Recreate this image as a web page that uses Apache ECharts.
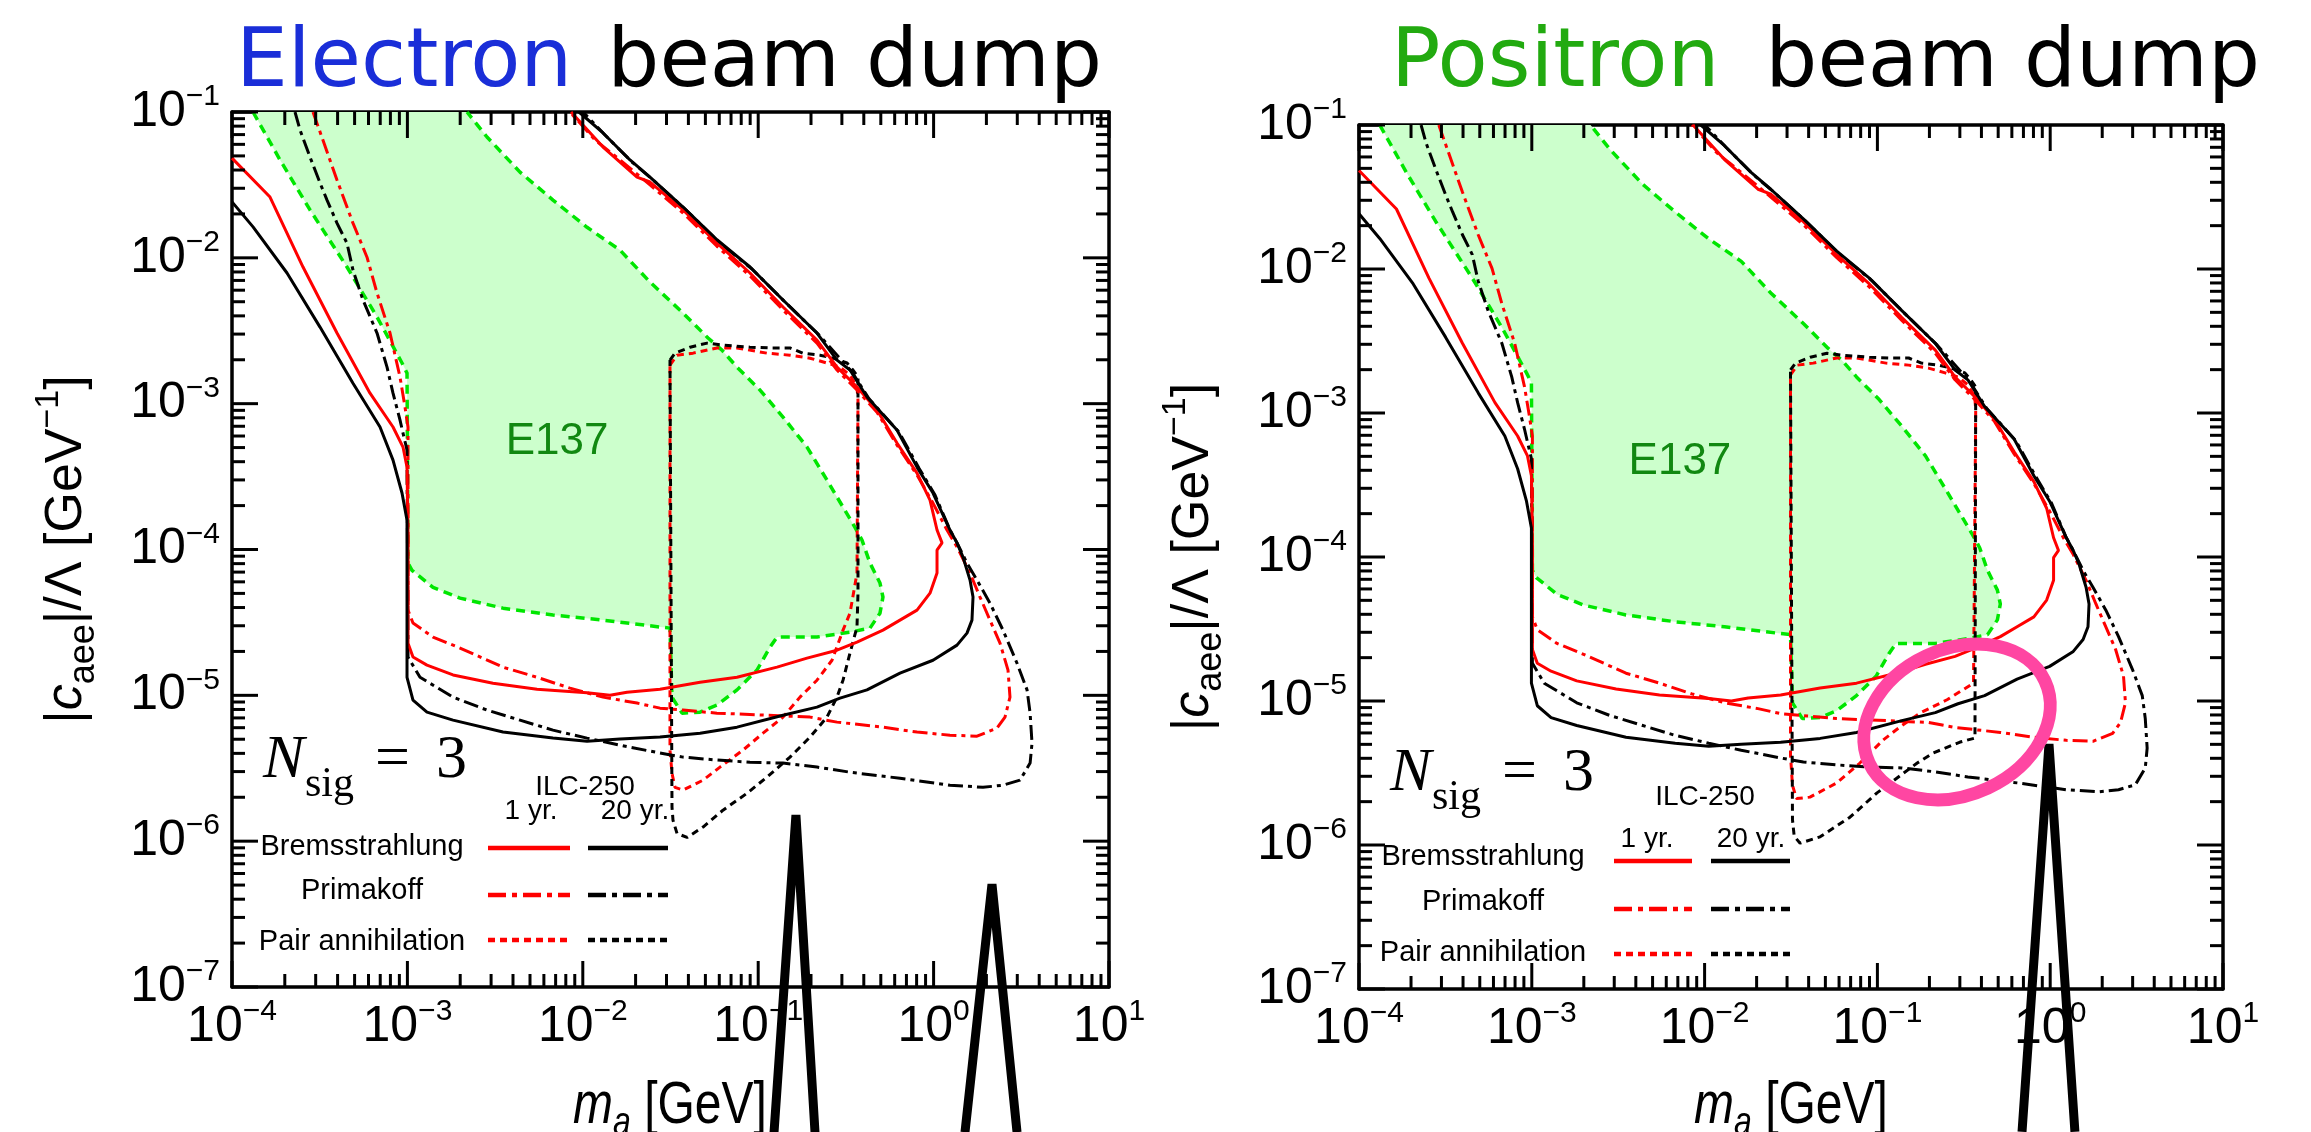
<!DOCTYPE html>
<html lang="en">
<head>
<meta charset="UTF-8">
<title>ILC beam dump sensitivity</title>
<script src="https://cdn.jsdelivr.net/npm/echarts@6/dist/echarts.min.js"></script>
<style>
  body { margin: 0; background: #fff; }
  #chart { width: 2311px; height: 1132px; }
</style>
</head>
<body>
<div id="chart"></div>
<script>
// ---- axis ticks ----
const majorX = [1e-4, 1e-3, 1e-2, 1e-1, 1, 10];
const majorY = [1e-7, 1e-6, 1e-5, 1e-4, 1e-3, 1e-2, 1e-1];
const minorSteps = [2, 3, 4, 5, 6, 7, 8, 9];

// ---- curves: [m_a in GeV, |c_aee|/Lambda in 1/GeV] ----
// E137 excluded region (closed outline)
const e137Edge = [[1.318e-4,0.1],[1.879e-4,4.69e-2],[2.785e-4,2.13e-2],[4.524e-4,8.65e-3],[6.711e-4,3.93e-3],[9.317e-4,1.9e-3],[9.95e-4,1.62e-3],[1.008e-3,8.07e-5],[1.062e-3,7.2e-5],[1.399e-3,5.5e-5],[1.995e-3,4.64e-5],[3.508e-3,3.96e-5],[6.761e-3,3.55e-5],[1.304e-2,3.28e-5],[2.755e-2,2.94e-5],[3.141e-2,2.89e-5],[3.225e-2,9.7e-6],[3.68e-2,7.55e-6],[4.663e-2,7.67e-6],[5.82e-2,8.57e-6],[7.571e-2,1.09e-5],[9.84e-2,1.49e-5],[0.1168,2.14e-5],[0.128,2.51e-5],[0.2163,2.51e-5],[0.3337,2.71e-5],[0.4339,2.89e-5],[0.4947,3.66e-5],[0.5145,4.72e-5],[0.4947,5.89e-5],[0.4339,8.07e-5],[0.3907,1.16e-4],[0.3563,1.42e-4],[0.2467,2.99e-4],[0.1898,5.04e-4],[0.1385,8.09e-4],[0.1024,1.24e-3],[7.571e-2,1.78e-3],[6.216e-2,2.33e-3],[5.176e-2,2.82e-3],[3.729e-2,4.18e-3],[2.416e-2,6.82e-3],[1.63e-2,1.13e-2],[1.057e-2,1.62e-2],[6.761e-3,2.49e-2],[4.385e-3,3.87e-2],[2.843e-3,6.74e-2],[2.187e-3,0.1]];

// Bremsstrahlung
const bremsOne = [[1e-4,4.83e-2],[1.647e-4,2.61e-2],[2.54e-4,8.65e-3],[3.968e-4,3.05e-3],[6.121e-4,1.18e-3],[8.279e-4,6.92e-4],[9.44e-4,5.04e-4],[9.95e-4,3.67e-4],[1.008e-3,1.29e-4],[1.008e-3,2.28e-5],[1.076e-3,1.83e-5],[1.293e-3,1.61e-5],[1.82e-3,1.38e-5],[3.076e-3,1.21e-5],[5.483e-3,1.1e-5],[1.057e-2,1.04e-5],[1.429e-2,1.0e-5],[1.787e-2,1.05e-5],[2.755e-2,1.1e-5],[4.663e-2,1.23e-5],[7.571e-2,1.33e-5],[0.128,1.56e-5],[0.1898,1.8e-5],[0.2814,2.04e-5],[0.3658,2.32e-5],[0.5145,2.8e-5],[0.6433,3.28e-5],[0.8044,3.84e-5],[0.9539,5.02e-5],[1.046,6.89e-5],[1.046,9.9e-5],[1.117,1.11e-4],[1.046,1.36e-4],[0.9539,2.18e-4],[0.8044,3.34e-4],[0.6184,5.37e-4],[0.4756,9.04e-4],[0.3658,1.3e-3],[0.2814,1.78e-3],[0.2163,2.73e-3],[0.1385,4.6e-3],[8.98e-2,7.87e-3],[5.82e-2,1.26e-2],[3.729e-2,2.13e-2],[2.416e-2,3.31e-2],[2.037e-2,3.58e-2],[1.304e-2,5.75e-2],[8.57e-3,0.1]];
const bremsTwenty = [[1e-4,2.42e-2],[1.318e-4,1.63e-2],[2.059e-4,7.87e-3],[3.175e-4,3.35e-3],[4.895e-4,1.38e-3],[6.98e-4,6.92e-4],[8.279e-4,4.1e-4],[9.317e-4,2.44e-4],[9.95e-4,1.59e-4],[9.95e-4,1.33e-5],[1.076e-3,9.27e-6],[1.293e-3,7.67e-6],[1.82e-3,6.76e-6],[3.508e-3,5.6e-6],[6.761e-3,5.09e-6],[1.057e-2,4.85e-6],[1.63e-2,5.01e-6],[2.755e-2,5.17e-6],[4.663e-2,5.5e-6],[7.571e-2,6.05e-6],[0.1385,7.31e-6],[0.2163,8.3e-6],[0.2927,9.57e-6],[0.4172,1.09e-5],[0.6433,1.42e-5],[0.9922,1.74e-5],[1.36,2.21e-5],[1.55,2.67e-5],[1.655,3.28e-5],[1.678,4.72e-5],[1.613,6.17e-5],[1.471,8.87e-5],[1.36,1.11e-4],[1.24,1.36e-4],[0.9922,2.44e-4],[0.8044,3.67e-4],[0.6184,6.59e-4],[0.4172,1.11e-3],[0.3337,1.7e-3],[0.2814,1.99e-3],[0.2163,3.05e-3],[0.1385,5.14e-3],[8.98e-2,8.65e-3],[5.82e-2,1.33e-2],[3.729e-2,2.23e-2],[2.416e-2,3.58e-2],[1.858e-2,4.69e-2],[1.304e-2,7.18e-2],[9.51e-3,0.1]];

// Primakoff
const primaOne = [[2.896e-4,0.1],[3.968e-4,3.42e-2],[4.895e-4,1.73e-2],[5.885e-4,1.01e-2],[6.711e-4,5.74e-3],[7.96e-4,3.05e-3],[9.077e-4,1.52e-3],[9.69e-4,9.47e-4],[1.008e-3,6.92e-4],[1.008e-3,3.84e-5],[1.076e-3,3.13e-5],[1.399e-3,2.51e-5],[1.995e-3,2.11e-5],[3.508e-3,1.56e-5],[5.483e-3,1.33e-5],[8.453e-3,1.12e-5],[1.304e-2,9.72e-6],[2.037e-2,8.85e-6],[2.755e-2,8.17e-6],[3.729e-2,7.92e-6],[5.82e-2,7.55e-6],[0.1123,7.31e-6],[0.1974,7.09e-6],[0.2814,6.55e-6],[0.5145,6.05e-6],[0.8044,5.6e-6],[1.24,5.33e-6],[1.768,5.25e-6],[2.298,5.95e-6],[2.553,7.09e-6],[2.726,9.72e-6],[2.656,1.49e-5],[2.391,2.28e-5],[2.096,3.28e-5],[1.839,4.72e-5],[1.613,6.89e-5],[1.36,1.04e-4],[1.192,1.36e-4],[0.9922,2.08e-4],[0.8044,3.24e-4],[0.6184,5.2e-4],[0.4756,8.75e-4],[0.3658,1.24e-3],[0.2814,1.7e-3],[0.2163,2.6e-3],[0.1385,4.39e-3],[8.98e-2,7.5e-3],[5.82e-2,1.2e-2],[3.729e-2,2.03e-2],[2.416e-2,3.16e-2],[1.63e-2,4.69e-2],[1.174e-2,6.43e-2],[8.453e-3,0.1]];
const primaTwenty = [[2.287e-4,0.1],[2.442e-4,7.53e-2],[2.785e-4,4.91e-2],[3.175e-4,3.26e-2],[3.482e-4,2.49e-2],[3.968e-4,1.73e-2],[4.524e-4,1.26e-2],[4.895e-4,8.24e-3],[5.582e-4,5.14e-3],[6.711e-4,3.05e-3],[7.654e-4,1.78e-3],[8.279e-4,1.18e-3],[9.077e-4,7.71e-4],[9.44e-4,6.28e-4],[9.95e-4,4.81e-4],[1.008e-3,1.83e-5],[1.18e-3,1.33e-5],[1.82e-3,9.72e-6],[2.843e-3,7.92e-6],[4.385e-3,6.76e-6],[6.761e-3,5.77e-6],[1.057e-2,5.09e-6],[1.63e-2,4.55e-6],[2.755e-2,4.02e-6],[3.729e-2,3.77e-6],[5.82e-2,3.6e-6],[8.98e-2,3.48e-6],[0.1385,3.43e-6],[0.2163,3.22e-6],[0.3337,2.97e-6],[0.6433,2.7e-6],[1.24,2.42e-6],[1.912,2.34e-6],[2.486,2.42e-6],[3.11,2.62e-6],[3.55,3.43e-6],[3.64,4.7e-6],[3.55,7.55e-6],[3.41,1.09e-5],[2.99,1.66e-5],[2.486,2.8e-5],[2.096,4.29e-5],[1.768,6.17e-5],[1.55,8.07e-5],[1.36,1.11e-4],[1.24,1.36e-4],[1.019,2.36e-4],[0.8258,3.61e-4],[0.6349,6.38e-4],[0.4283,1.08e-3],[0.3426,1.65e-3],[0.222,2.96e-3],[0.1422,4.98e-3],[9.22e-2,8.38e-3],[5.976e-2,1.28e-2],[3.828e-2,2.16e-2],[2.48e-2,3.47e-2],[1.906e-2,4.54e-2],[1.339e-2,6.95e-2],[1.003e-2,0.1]];

// Pair annihilation, electron dump
const pairOne = [[3.141e-2,1.84e-3],[3.445e-2,2.15e-3],[4.252e-2,2.22e-3],[5.82e-2,2.41e-3],[7.571e-2,2.41e-3],[0.1123,2.22e-3],[0.1518,2.15e-3],[0.1974,2.05e-3],[0.2467,1.9e-3],[0.2927,1.78e-3],[0.3337,1.57e-3],[0.3658,1.3e-3],[0.3706,1.06e-3],[0.3658,6.89e-5],[0.3337,3.66e-5],[0.3045,2.8e-5],[0.2635,1.74e-5],[0.2163,1.27e-5],[0.1731,9.72e-6],[0.1385,7.09e-6],[0.1065,5.5e-6],[8.19e-2,4.21e-6],[6.055e-2,3.22e-6],[4.85e-2,2.62e-6],[3.729e-2,2.24e-6],[3.355e-2,2.34e-6],[3.225e-2,2.92e-6],[3.141e-2,4.21e-6],[3.141e-2,1.84e-3]];
const pairTwenty = [[3.141e-2,1.99e-3],[3.355e-2,2.22e-3],[4.088e-2,2.44e-3],[5.11e-2,2.6e-3],[6.298e-2,2.52e-3],[8.98e-2,2.44e-3],[0.1168,2.41e-3],[0.1518,2.41e-3],[0.18,2.22e-3],[0.2251,2.15e-3],[0.267,2.05e-3],[0.3209,1.9e-3],[0.3471,1.7e-3],[0.3706,1.52e-3],[0.3706,5.02e-5],[0.3658,2.94e-5],[0.3337,1.95e-5],[0.3045,1.27e-5],[0.2814,9.72e-6],[0.2467,7.09e-6],[0.1974,5.17e-6],[0.1518,3.77e-6],[0.1123,2.75e-6],[8.63e-2,2.13e-6],[6.298e-2,1.63e-6],[4.85e-2,1.25e-6],[3.93e-2,1.06e-6],[3.445e-2,1.13e-6],[3.268e-2,1.39e-6],[3.225e-2,1.71e-6],[3.141e-2,1.99e-3]];

// Pair annihilation, positron dump
const pairOnePos = [[3.141e-2,1.84e-3],[3.445e-2,2.15e-3],[4.252e-2,2.22e-3],[5.82e-2,2.41e-3],[7.571e-2,2.41e-3],[0.1123,2.22e-3],[0.1518,2.15e-3],[0.1974,2.05e-3],[0.2467,1.9e-3],[0.2927,1.78e-3],[0.3337,1.57e-3],[0.3658,1.3e-3],[0.3706,1.06e-3],[0.36,1.33e-5],[0.253,1.02e-5],[0.177,8.26e-6],[0.135,6.6e-6],[0.108,5.36e-6],[7.92e-2,3.71e-6],[5.83e-2,2.7e-6],[4.07e-2,2.15e-6],[3.4e-2,2.1e-6],[3.225e-2,2.6e-6],[3.141e-2,4.21e-6],[3.141e-2,1.84e-3]];
const pairTwentyPos = [[3.141e-2,1.99e-3],[3.355e-2,2.22e-3],[4.088e-2,2.44e-3],[5.11e-2,2.6e-3],[6.298e-2,2.52e-3],[8.98e-2,2.44e-3],[0.1168,2.41e-3],[0.1518,2.41e-3],[0.18,2.22e-3],[0.2251,2.15e-3],[0.267,2.05e-3],[0.3209,1.9e-3],[0.3471,1.7e-3],[0.3706,1.52e-3],[0.367,5.53e-6],[0.301,5.19e-6],[0.21,4.35e-6],[0.17,3.71e-6],[9.95e-2,2.3e-6],[6.94e-2,1.56e-6],[4.66e-2,1.14e-6],[3.57e-2,1.03e-6],[3.3e-2,1.15e-6],[3.225e-2,1.5e-6],[3.141e-2,1.99e-3]];

// hand-drawn strokes and ring laid over the figure
const spikesEle = [[[0.1231,1.01e-8],[0.1641,1.51e-6],[0.2108,1.01e-8]], [[1.51,1.01e-8],[2.152,5.07e-7],[2.99,1.01e-8]]];
const spikesPos = [[[0.687,1.02e-8],[0.984,5.02e-6],[1.39,1.02e-8]]];
const ringPos = [0.289, 7.15e-6];
const e137LabelEle = [7.13e-3, 5.5e-4];
const e137LabelPos = [7.2e-3, 4.57e-4];

// ---- styling ----
const SANS = '"Liberation Sans", Arial, Helvetica, sans-serif';
const NARROW = '"Liberation Sans Narrow", "Liberation Sans", Arial, sans-serif';
const SERIF = '"Liberation Serif", "Times New Roman", serif';
const TITLE = '"DejaVu Sans", sans-serif';
const RED = '#ff0000';
const BLACK = '#000000';
const DASHDOT = [15, 5, 4, 5];
const DOTTED = [7, 5];
const MAJOR_LEN = 26;
const MINOR_LEN = 13;

const minorX = [];
majorX.slice(0, -1).forEach(d => minorSteps.forEach(k => minorX.push(k * d)));
const minorY = [];
majorY.slice(0, -1).forEach(d => minorSteps.forEach(k => minorY.push(k * d)));

function powLabel(v) {
  const e = Math.round(Math.log10(v));
  return '{b|10}{s|' + (e < 0 ? '\u2212' + (-e) : e) + '}';
}
const labelRich = {
  b: { fontSize: 50, fontFamily: NARROW, color: '#000', lineHeight: 60, verticalAlign: 'middle' },
  s: { fontSize: 30, fontFamily: NARROW, color: '#000', verticalAlign: 'top' }
};
const xNameRich = {
  i: { fontSize: 48, fontFamily: SANS, fontStyle: 'italic', fill: '#000', lineHeight: 60, verticalAlign: 'middle' },
  sub: { fontSize: 32, fontFamily: SANS, fontStyle: 'italic', fill: '#000', verticalAlign: 'bottom' },
  n: { fontSize: 48, fontFamily: SANS, fill: '#000', lineHeight: 60, verticalAlign: 'middle' }
};
const yNameRich = {
  n: { fontSize: 52, fontFamily: SANS, color: '#000', lineHeight: 70, verticalAlign: 'middle' },
  i: { fontSize: 52, fontFamily: SANS, fontStyle: 'italic', color: '#000', lineHeight: 70, verticalAlign: 'middle' },
  sub: { fontSize: 36, fontFamily: SANS, color: '#000', verticalAlign: 'bottom' },
  sup: { fontSize: 34, fontFamily: SANS, color: '#000', verticalAlign: 'top' }
};

const boxLine = { show: true, onZero: false, lineStyle: { color: '#000', width: 3.5 } };

function xAxesFor(g) {
  const base = { gridIndex: g, type: 'log', logBase: 10, min: 1e-4, max: 10, splitLine: { show: false }, axisTick: { show: false }, minorTick: { show: false } };
  return [
    Object.assign({}, base, {
      position: 'bottom', axisLine: boxLine,
      axisLabel: { show: true, customValues: majorX, formatter: powLabel, rich: labelRich, margin: 10 }
    }),
    Object.assign({}, base, { position: 'top', axisLine: boxLine, axisLabel: { show: false } })
  ];
}
function yAxesFor(g) {
  const base = { gridIndex: g, type: 'log', logBase: 10, min: 1e-7, max: 1e-1, splitLine: { show: false }, axisTick: { show: false }, minorTick: { show: false } };
  return [
    Object.assign({}, base, {
      position: 'left', axisLine: boxLine,
      axisLabel: { show: true, customValues: majorY, formatter: powLabel, rich: labelRich, margin: 12 },
      name: '{n||}{i|c}{sub|aee}{n||/\u039b [GeV}{sup|\u22121}{n|]}', nameLocation: 'middle', nameGap: 130, nameRotate: 90,
      nameTextStyle: { rich: yNameRich }
    }),
    Object.assign({}, base, { position: 'right', axisLine: boxLine, axisLabel: { show: false } })
  ];
}

function line(g, data, color, dash, width, z) {
  return {
    type: 'line', xAxisIndex: 2 * g, yAxisIndex: 2 * g, data: data,
    showSymbol: false, symbol: 'none', silent: true, animation: false, z: z || 3,
    lineStyle: { color: color, width: width || 3, type: dash || 'solid' }
  };
}
function e137Fill(g) {
  return {
    type: 'custom', xAxisIndex: 2 * g, yAxisIndex: 2 * g, data: e137Edge, silent: true, animation: false, z: 1,
    renderItem: function (params, api) {
      if (params.dataIndex !== 0) return null;
      return { type: 'polygon', shape: { points: e137Edge.map(p => api.coord(p)) }, style: { fill: '#ccffcc' } };
    }
  };
}
function spike(g, data) {
  return {
    type: 'line', xAxisIndex: 2 * g, yAxisIndex: 2 * g, data: data, clip: false,
    showSymbol: false, symbol: 'none', silent: true, animation: false, z: 20,
    lineStyle: { color: '#000', width: 9, join: 'bevel' }
  };
}
function panelSeries(g, pOne, pTwenty) {
  return [
    e137Fill(g),
    line(g, e137Edge, '#00e600', [9, 6], 3.5, 2),
    line(g, pOne, RED, DOTTED),
    line(g, pTwenty, BLACK, DOTTED),
    line(g, primaOne, RED, DASHDOT),
    line(g, primaTwenty, BLACK, DASHDOT),
    line(g, bremsOne, RED, 'solid'),
    line(g, bremsTwenty, BLACK, 'solid')
  ];
}

const chart = echarts.init(document.getElementById('chart'), null, { renderer: 'canvas' });
const grids = [
  { left: 232, top: 112, width: 877, height: 875, containLabel: false, outerBoundsMode: 'none' },
  { left: 1359, top: 125, width: 864, height: 864, containLabel: false, outerBoundsMode: 'none' }
];
const series = []
  .concat(panelSeries(0, pairOne, pairTwenty))
  .concat(panelSeries(1, pairOnePos, pairTwentyPos))
  .concat(spikesEle.map(s => spike(0, s)))
  .concat(spikesPos.map(s => spike(1, s)));

chart.setOption({
  animation: false,
  backgroundColor: '#ffffff',
  grid: grids,
  xAxis: xAxesFor(0).concat(xAxesFor(1)),
  yAxis: yAxesFor(0).concat(yAxesFor(1)),
  series: series
});

// ---- inward ticks on all four sides, placed through each panel's log axes ----
function tickMarks(g) {
  const finder = { xAxisIndex: 2 * g, yAxisIndex: 2 * g };
  const out = [];
  const add = (p, dx, dy) => out.push({
    type: 'line', silent: true, z: 40,
    shape: { x1: p[0], y1: p[1], x2: p[0] + dx, y2: p[1] + dy },
    style: { stroke: '#000', lineWidth: 3 }
  });
  [[majorX, MAJOR_LEN], [minorX, MINOR_LEN]].forEach(([vals, len]) => vals.forEach(v => {
    add(chart.convertToPixel(finder, [v, 1e-7]), 0, -len);
    add(chart.convertToPixel(finder, [v, 1e-1]), 0, len);
  }));
  [[majorY, MAJOR_LEN], [minorY, MINOR_LEN]].forEach(([vals, len]) => vals.forEach(v => {
    add(chart.convertToPixel(finder, [1e-4, v]), len, 0);
    add(chart.convertToPixel(finder, [10, v]), -len, 0);
  }));
  return out;
}

// ---- titles, axis titles, N_sig, legend blocks, labels, ring ----
function txt(x, y, text, size, opts) {
  return {
    type: 'text', x: x, y: y, z: 50, silent: true,
    style: Object.assign({ text: text, fontSize: size, fontFamily: SANS, fill: '#000', align: 'center', verticalAlign: 'middle' }, opts || {})
  };
}
function seg(x1, x2, y, color, dash) {
  return {
    type: 'line', z: 50, silent: true, shape: { x1: x1, y1: y, x2: x2, y2: y },
    style: { stroke: color, lineWidth: 4.5, lineDash: dash || null }
  };
}
function legendBlock(gx, gy, o) {
  return [
    txt(gx + o.ilc[0], gy + o.ilc[1], 'ILC-250', 28),
    txt(gx + o.one[0], gy + o.one[1], '1 yr.', 28),
    txt(gx + o.twenty[0], gy + o.twenty[1], '20 yr.', 28),
    txt(gx + o.textX, gy + o.rows[0], 'Bremsstrahlung', 29),
    txt(gx + o.textX, gy + o.rows[1], 'Primakoff', 29),
    txt(gx + o.textX, gy + o.rows[2], 'Pair annihilation', 29),
    seg(gx + o.red[0], gx + o.red[1], gy + o.lines[0], RED),
    seg(gx + o.blk[0], gx + o.blk[1], gy + o.lines[0], BLACK),
    seg(gx + o.red[0], gx + o.red[1], gy + o.lines[1], RED, [18, 6, 5, 6]),
    seg(gx + o.blk[0], gx + o.blk[1], gy + o.lines[1], BLACK, [18, 6, 5, 6]),
    seg(gx + o.red[0], gx + o.red[1], gy + o.lines[2], RED, [7, 5]),
    seg(gx + o.blk[0], gx + o.blk[1], gy + o.lines[2], BLACK, [7, 5])
  ];
}
function nsig(gx, gy) {
  return [
    txt(gx + 31, gy + 649, 'N', 62, { fontFamily: SERIF, fontStyle: 'italic', align: 'left' }),
    txt(gx + 73, gy + 673, 'sig', 42, { fontFamily: SERIF, align: 'left' }),
    txt(gx + 143, gy + 649, '=', 62, { fontFamily: SERIF, align: 'left' }),
    txt(gx + 204, gy + 649, '3', 62, { fontFamily: SERIF, align: 'left' })
  ];
}
function xTitle(cx) {
  return {
    type: 'text', x: cx, y: 1106, scaleY: 1.25, z: 50, silent: true,
    style: { text: '{i|m}{sub|a}{n| [GeV]}', rich: xNameRich, align: 'center', verticalAlign: 'middle' }
  };
}

const legendEle = { ilc: [353, 675], one: [299, 699], twenty: [403, 699], textX: 130, rows: [735, 779, 830],
  red: [256, 338], blk: [356, 436], lines: [736, 783, 828] };
const legendPos = { ilc: [346, 672], one: [288, 714], twenty: [392, 714], textX: 124, rows: [732, 777, 828],
  red: [255, 333], blk: [352, 431], lines: [736, 784, 829] };

const ringCenter = chart.convertToPixel({ xAxisIndex: 2, yAxisIndex: 2 }, ringPos);
const labelEle = chart.convertToPixel({ xAxisIndex: 0, yAxisIndex: 0 }, e137LabelEle);
const labelPos = chart.convertToPixel({ xAxisIndex: 2, yAxisIndex: 2 }, e137LabelPos);

const graphics = [
  txt(236, 65, 'Electron', 82, { fontFamily: TITLE, fill: '#1a2ed8', align: 'left' }),
  txt(1102, 65, 'beam dump', 82, { fontFamily: TITLE, align: 'right' }),
  txt(1391, 65, 'Positron', 82, { fontFamily: TITLE, fill: '#22aa10', align: 'left' }),
  txt(2260, 65, 'beam dump', 82, { fontFamily: TITLE, align: 'right' }),
  txt(labelEle[0], labelEle[1], 'E137', 44, { fill: '#118811' }),
  txt(labelPos[0], labelPos[1], 'E137', 44, { fill: '#118811' }),
  xTitle(670), xTitle(1791)
]
  .concat(tickMarks(0)).concat(tickMarks(1))
  .concat(nsig(232, 112)).concat(nsig(1359, 125))
  .concat(legendBlock(232, 112, legendEle)).concat(legendBlock(1359, 125, legendPos))
  .concat([{
    type: 'ellipse', x: ringCenter[0], y: ringCenter[1], rotation: 25 * Math.PI / 180, z: 60, silent: true,
    shape: { cx: 0, cy: 0, rx: 97, ry: 73 },
    style: { fill: 'none', stroke: '#ff46a2', lineWidth: 13 }
  }]);

chart.setOption({ graphic: graphics });
</script>
</body>
</html>
